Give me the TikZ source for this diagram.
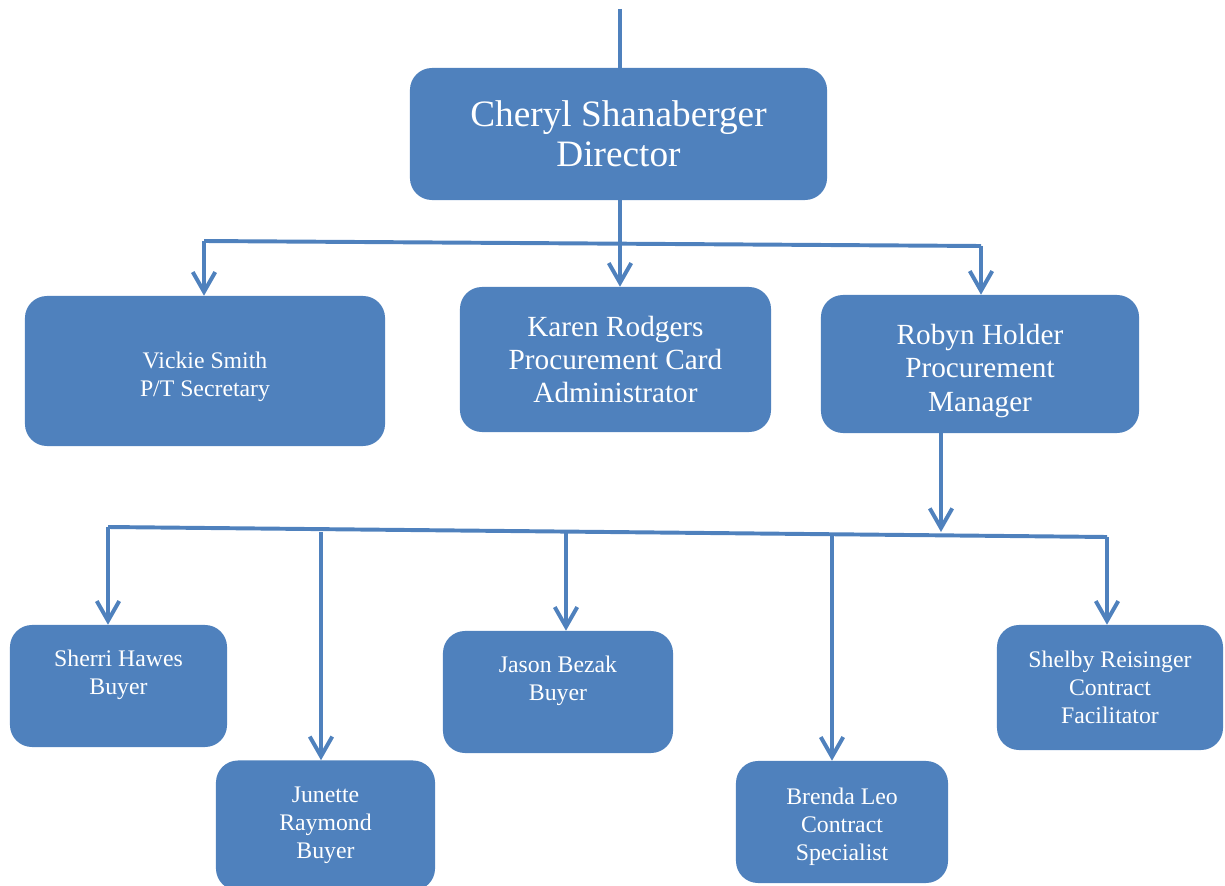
\documentclass[tikz,border=0pt]{standalone}
\usepackage{fontspec}
\setmainfont{Liberation Serif}
\usetikzlibrary{arrows.meta}
\definecolor{boxblue}{HTML}{4F81BD}

\begin{document}
\begin{tikzpicture}[x=0.025cm,y=-0.025cm,
    box/.style={rectangle,rounded corners=0.55cm,fill=boxblue,text=white,align=center,inner sep=0pt},
    big/.style={font=\fontsize{26.5pt}{28.5pt}\selectfont},
    mid/.style={font=\fontsize{20.8pt}{23.8pt}\selectfont},
    small/.style={font=\fontsize{16.9pt}{20pt}\selectfont},
    link/.style={draw=boxblue,line width=2.8pt},
    arr/.style={link,-{Straight Barb[length=14pt,width=16pt]}}]
            \useasboundingbox (0,0) rectangle (1225,886);

            \node (director) at (618.5,134) [box,big,minimum width=10.425cm,minimum height=3.3cm] {Cheryl Shanaberger\\Director};

            \node (vickie) at (205,371) [box,small,minimum width=9cm,minimum height=3.75cm] {\rule{0pt}{20pt}Vickie Smith\\P/T Secretary};
            \node (karen) at (615.5,359.5) [box,mid,minimum width=7.775cm,minimum height=3.625cm] {Karen Rodgers\\Procurement Card\\Administrator};
            \node (robyn) at (980,364) [box,mid,minimum width=7.95cm,minimum height=3.45cm] {\rule{0pt}{24.2pt}Robyn Holder\\Procurement\\Manager};

            \node (sherri) at (118.5,686) [box,small,minimum width=5.425cm,minimum height=3.05cm] {Sherri Hawes\\Buyer\\\mbox{}};
            \node (junette) at (325.5,825.5) [box,small,minimum width=5.475cm,minimum height=3.25cm] {Junette\\Raymond\\Buyer};
            \node (jason) at (558,692) [box,small,minimum width=5.75cm,minimum height=3.05cm] {Jason Bezak\\Buyer\\\mbox{}};
            \node (brenda) at (842,822) [box,small,minimum width=5.3cm,minimum height=3.05cm] {\rule{0pt}{18.6pt}Brenda Leo\\Contract\\Specialist};
            \node (shelby) at (1110,687.5) [box,small,minimum width=5.65cm,minimum height=3.125cm] {Shelby Reisinger\\Contract\\Facilitator};

            \coordinate (top) at (620,9);
            \coordinate (t1l) at (204,241);
            \coordinate (t1r) at (981,246);
            \coordinate (t2m) at (941,532);
            \coordinate (t2l) at (108,527);
            \coordinate (t2r) at (1107,537);
            \coordinate (t2a) at (321,532);
            \coordinate (t2b) at (566,533);
            \coordinate (t2c) at (832,535);

            \draw[link] (top) -- (director.north -| top);
            \draw[link] (t1l) -- (t1r);
            \draw[arr] (director.south -| top) -- (karen.north -| top);
            \draw[arr] (t1l) -- (t1l |- vickie.north);
            \draw[arr] (t1r) -- (t1r |- robyn.north);

            \draw[arr] (t2m |- robyn.south) -- (t2m);
            \draw[link] (t2l) -- (t2r);
            \draw[arr] (t2l) -- (t2l |- sherri.north);
            \draw[arr] (t2a) -- (t2a |- junette.north);
            \draw[arr] (t2b) -- (t2b |- jason.north);
            \draw[arr] (t2c) -- (t2c |- brenda.north);
            \draw[arr] (t2r) -- (t2r |- shelby.north);

        \end{tikzpicture}
\end{document}
